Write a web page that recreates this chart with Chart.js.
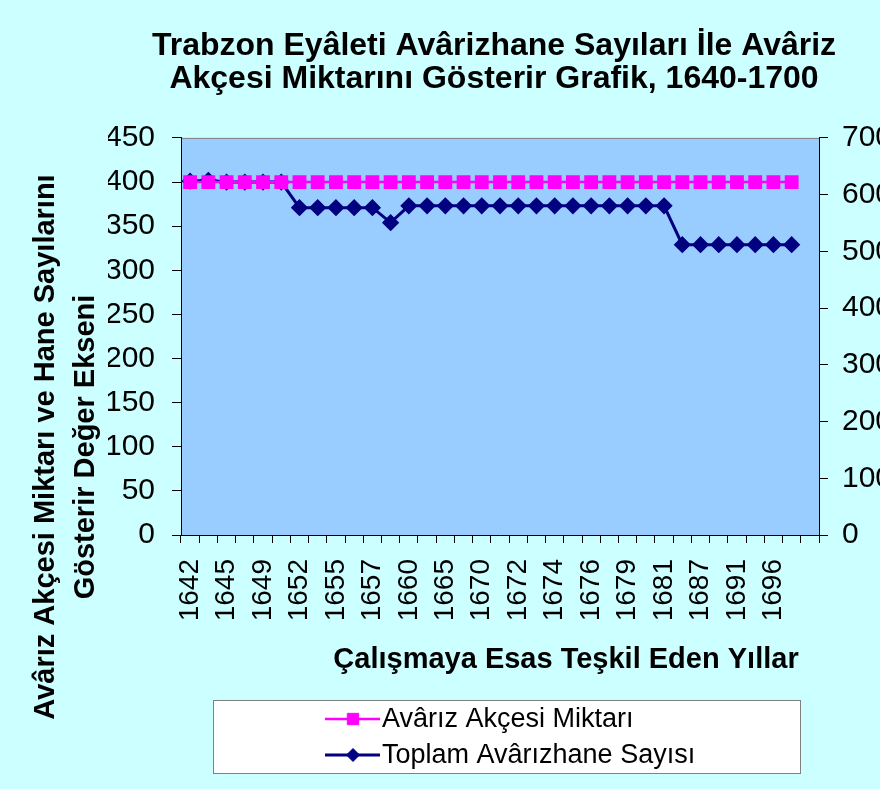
<!DOCTYPE html>
<html>
<head>
<meta charset="utf-8">
<script src="https://cdn.jsdelivr.net/npm/chart.js@4.4.1/dist/chart.umd.min.js"></script>
<style>
	body { margin: 0; background: #CCFFFF; }
	#wrap { width: 880px; height: 789px; }
</style>
</head>
<body>
<div id="wrap"><canvas id="grafik" width="880" height="789"></canvas></div>
<script>
// years (only every other one is printed on the axis)
var yillar = ['1642','1643','1645','1646','1649','1650','1652','1653','1655','1656','1657','1658',
	'1660','1661','1665','1666','1670','1671','1672','1673','1674','1675','1676','1677',
	'1679','1680','1681','1682','1687','1688','1691','1692','1696','1697',''];

var akceMiktari = [400,400,400,400,400,400,400,400,400,400,400,400,400,400,400,400,400,
	400,400,400,400,400,400,400,400,400,400,400,400,400,400,400,400,400,null];

var avarizhaneSayisi = [401,402,400,400,400,400,371,371,371,371,371,354,373,373,373,373,373,
	373,373,373,373,373,373,373,373,373,373,329,329,329,329,329,329,329,null];

var solEksen = { min: 0, max: 450, step: 50 };
var sagEksen = { min: 0, max: 700, step: 100 };

var baslik = ['Trabzon Eyâleti Avârizhane Sayıları İle Avâriz', 'Akçesi Miktarını Gösterir Grafik, 1640-1700'];
var yBaslik = ['Avârız Akçesi Miktarı ve Hane Sayılarını', 'Gösterir Değer Ekseni'];
var xBaslik = 'Çalışmaya Esas Teşkil Eden Yıllar';

var yazi = 'Arial, "Liberation Sans", sans-serif';

// background, plot area, axis titles and the boxed legend
var excelGorunumu = {
	id: 'excelGorunumu',
	beforeDraw: function(chart) {
		var ctx = chart.ctx, a = chart.chartArea;
		ctx.save();
		ctx.fillStyle = '#CCFFFF';
		ctx.fillRect(0, 0, chart.width, chart.height);
		ctx.fillStyle = '#99CCFF';
		ctx.fillRect(a.left, a.top, a.right - a.left, a.bottom - a.top);
		ctx.strokeStyle = '#808080';
		ctx.lineWidth = 1;
		ctx.strokeRect(a.left + 0.5, a.top + 0.5, a.right - a.left, a.bottom - a.top);
		ctx.restore();
	},
	afterDraw: function(chart) {
		var ctx = chart.ctx;
		ctx.save();
		ctx.fillStyle = '#000';
		ctx.font = 'bold 29px ' + yazi;
		ctx.textAlign = 'center';
		ctx.textBaseline = 'middle';

		// y axis title
		ctx.save();
		ctx.translate(0, 447);
		ctx.rotate(-Math.PI / 2);
		ctx.fillText(yBaslik[0], 0, 46);
		ctx.fillText(yBaslik[1], 0, 86);
		ctx.restore();

		// x axis title
		ctx.fillText(xBaslik, 566, 660);

		// legend
		ctx.fillStyle = '#FFFFFF';
		ctx.fillRect(213, 700, 587, 73);
		ctx.strokeStyle = '#808080';
		ctx.lineWidth = 1;
		ctx.strokeRect(213.5, 700.5, 587, 73);

		ctx.font = '27px ' + yazi;
		ctx.textAlign = 'left';
		chart.data.datasets.forEach(function(ds, i) {
			var y = 719 + i * 36;
			ctx.strokeStyle = ds.borderColor;
			ctx.lineWidth = ds.borderWidth;
			ctx.beginPath();
			ctx.moveTo(325, y);
			ctx.lineTo(380, y);
			ctx.stroke();
			ctx.fillStyle = ds.pointBackgroundColor;
			ctx.strokeStyle = ds.pointBorderColor;
			ctx.lineWidth = 1;
			Chart.helpers.drawPoint(ctx, { pointStyle: ds.pointStyle, radius: ds.pointRadius, borderWidth: 1 }, 353, y);
			ctx.fillStyle = '#000';
			ctx.fillText(ds.label, 382, y + 1);
		});
		ctx.restore();
	}
};

var datos = {
	labels: yillar,
	datasets: [{
		label: 'Avârız Akçesi Miktarı',
		data: akceMiktari,
		yAxisID: 'y',
		borderColor: '#FF00FF',
		backgroundColor: '#FF00FF',
		pointBackgroundColor: '#FF00FF',
		pointBorderColor: '#FF00FF',
		borderWidth: 2.5,
		pointStyle: 'rect',
		pointRadius: 8,
		pointHoverRadius: 8,
		tension: 0
	},
	{
		label: 'Toplam Avârızhane Sayısı',
		data: avarizhaneSayisi,
		yAxisID: 'y',
		borderColor: '#000080',
		backgroundColor: '#000080',
		pointBackgroundColor: '#000080',
		pointBorderColor: '#000080',
		borderWidth: 3,
		pointStyle: 'rectRot',
		pointRadius: 6.5,
		pointHoverRadius: 6.5,
		tension: 0
	}]
};

var xFont = { family: yazi, size: 28 };
var yFont = { family: yazi, size: 30 };

new Chart(document.getElementById('grafik').getContext('2d'), {
	type: 'line',
	data: datos,
	plugins: [excelGorunumu],
	options: {
		responsive: false,
		animation: false,
		// left padding only moves the title centre; the y scale fills the rest up to x=181
		layout: { padding: { left: 108, right: 0, top: 0, bottom: 0 } },
		plugins: {
			legend: { display: false },
			tooltip: { enabled: false },
			title: {
				display: true,
				fullSize: true,
				text: baslik,
				color: '#000',
				font: { family: yazi, size: 32, weight: 'bold', lineHeight: 1.03 },
				padding: { top: 30, bottom: 42 }
			}
		},
		scales: {
			x: {
				type: 'category',
				offset: true,
				grid: { display: true, offset: true, drawOnChartArea: false, drawTicks: true, tickLength: 8, color: '#000' },
				border: { color: '#000', width: 1 },
				ticks: {
					color: '#000',
					font: xFont,
					autoSkip: false,
					minRotation: 90,
					maxRotation: 90,
					padding: 16,
					callback: function(v, i) { return i % 2 === 0 ? yillar[i] : ''; }
				},
				afterFit: function(s) { s.height = 254; }
			},
			y: {
				position: 'left',
				min: solEksen.min,
				max: solEksen.max,
				grid: { display: true, drawOnChartArea: false, tickLength: 9, color: '#000' },
				border: { color: '#000', width: 1 },
				ticks: { stepSize: solEksen.step, color: '#000', font: yFont, padding: 17 },
				afterFit: function(s) { s.width = 73; }
			},
			y1: {
				position: 'right',
				display: true,
				min: sagEksen.min,
				max: sagEksen.max,
				grid: { display: true, drawOnChartArea: false, tickLength: 9, color: '#000' },
				border: { color: '#000', width: 1 },
				ticks: { stepSize: sagEksen.step, color: '#000', font: yFont, padding: 14 },
				afterFit: function(s) { s.width = 61; }
			}
		}
	}
});
</script>
</body>
</html>
